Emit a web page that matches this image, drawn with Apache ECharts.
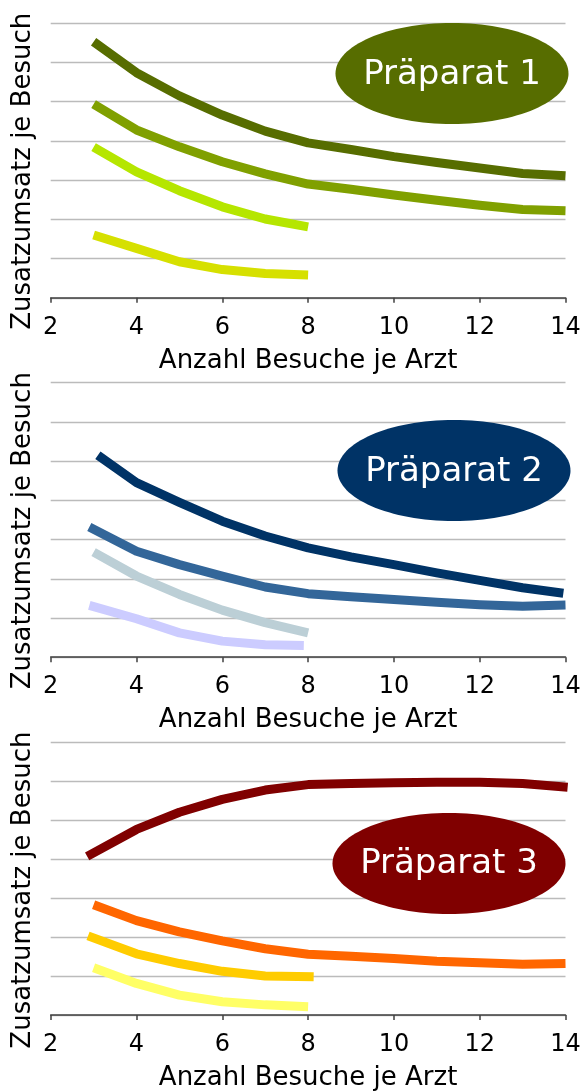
<!DOCTYPE html>
<html>
<head>
<meta charset="utf-8">
<script src="https://cdn.jsdelivr.net/npm/echarts@6/dist/echarts.min.js"></script>
<style>
html,body{margin:0;padding:0;background:#fff;}
#chart{width:585px;height:1092px;}
</style>
</head>
<body>
<div id="chart"></div>
<script>
// ---------- data ----------
const xTickLabels = [2, 4, 6, 8, 10, 12, 14];
const panelTitles = ['Präparat 1', 'Präparat 2', 'Präparat 3'];
const xAxisTitle = 'Anzahl Besuche je Arzt';
const yAxisTitle = 'Zusatzumsatz je Besuch';

// Präparat 1
const p1A_x = [3, 4, 5, 6, 7, 8, 9, 10, 11, 12, 13, 14];
const p1A_y = [6.53, 5.74, 5.15, 4.66, 4.25, 3.95, 3.78, 3.60, 3.45, 3.31, 3.17, 3.11];
const p1B_x = [3, 4, 5, 6, 7, 8, 9, 10, 11, 12, 13, 14];
const p1B_y = [4.94, 4.28, 3.85, 3.47, 3.16, 2.90, 2.77, 2.62, 2.49, 2.36, 2.25, 2.22];
const p1C_x = [3, 4, 5, 6, 7, 8];
const p1C_y = [3.84, 3.21, 2.73, 2.32, 2.01, 1.81];
const p1D_x = [3, 4, 5, 6, 7, 8];
const p1D_y = [1.60, 1.26, 0.92, 0.72, 0.62, 0.58];

// Präparat 2
const p2A_x = [3.1, 4, 5, 6, 7, 8, 9, 10, 11, 12, 13, 13.95];
const p2A_y = [5.15, 4.45, 3.95, 3.47, 3.09, 2.79, 2.56, 2.36, 2.15, 1.96, 1.77, 1.63];
const p2B_x = [2.9, 4, 5, 6, 7, 8, 9, 10, 11, 12, 13, 14];
const p2B_y = [3.32, 2.70, 2.36, 2.07, 1.79, 1.62, 1.54, 1.47, 1.40, 1.34, 1.30, 1.33];
const p2C_x = [3, 4, 5, 6, 7, 8];
const p2C_y = [2.68, 2.07, 1.60, 1.20, 0.88, 0.62];
const p2D_x = [2.9, 4, 5, 6, 7, 7.9];
const p2D_y = [1.32, 0.98, 0.62, 0.41, 0.32, 0.30];

// Präparat 3
const p3A_x = [2.85, 4, 5, 6, 7, 8, 9, 10, 11, 12, 13, 14.05];
const p3A_y = [4.07, 4.76, 5.20, 5.53, 5.77, 5.91, 5.94, 5.96, 5.97, 5.97, 5.94, 5.84];
const p3B_x = [3, 4, 5, 6, 7, 8, 9, 10, 11, 12, 13, 14];
const p3B_y = [2.83, 2.42, 2.13, 1.90, 1.70, 1.56, 1.51, 1.45, 1.38, 1.34, 1.30, 1.32];
const p3C_x = [2.87, 4, 5, 6, 7, 8.13];
const p3C_y = [2.03, 1.57, 1.32, 1.12, 1.00, 0.98];
const p3D_x = [3, 4, 5, 6, 7, 8];
const p3D_y = [1.21, 0.81, 0.51, 0.34, 0.26, 0.21];

// ---------- styling / layout ----------
const FONT = 'DejaVu Sans';
const panelColors = [
  ['#576D00', '#80A000', '#B5E600', '#D6E000'],
  ['#003366', '#336699', '#BCCFD6', '#CCCCFF'],
  ['#800000', '#FF6600', '#FFCC00', '#FFFF66']
];
const ellipseColors = ['#576D00', '#003366', '#800000'];
const panelSeries = [
  [[p1A_x, p1A_y], [p1B_x, p1B_y], [p1C_x, p1C_y], [p1D_x, p1D_y]],
  [[p2A_x, p2A_y], [p2B_x, p2B_y], [p2C_x, p2C_y], [p2D_x, p2D_y]],
  [[p3A_x, p3A_y], [p3B_x, p3B_y], [p3C_x, p3C_y], [p3D_x, p3D_y]]
];
const gridTop0 = 23.3, panelStep = 359.4, gridH = 274.5;
const gridLeft = 50.7, gridRight = 19.5;
const ellipses = [
  {cx: 452, cy: 73.5, ty: 75},
  {cx: 454, cy: 470.5, ty: 472},
  {cx: 449, cy: 863.5, ty: 864}
];

const grids = [], xAxes = [], yAxes = [], series = [], graphics = [];
for (let i = 0; i < 3; i++) {
  const top = gridTop0 + panelStep * i;
  grids.push({left: gridLeft, right: gridRight, top: top, height: gridH});
  xAxes.push({
    type: 'value', gridIndex: i, min: xTickLabels[0], max: xTickLabels[xTickLabels.length - 1], interval: 2,
    name: xAxisTitle, nameLocation: 'middle', nameGap: 50,
    nameTextStyle: {fontFamily: FONT, fontSize: 26, color: '#000'},
    axisLine: {show: true, onZero: false, lineStyle: {color: '#404040', width: 1.5}},
    axisTick: {show: true, length: 5, lineStyle: {color: '#404040', width: 1.5}},
    axisLabel: {fontFamily: FONT, fontSize: 24, color: '#000', margin: 18},
    splitLine: {show: false}
  });
  yAxes.push({
    type: 'value', gridIndex: i, min: 0, max: 7, interval: 1,
    axisLine: {show: false}, axisTick: {show: false}, axisLabel: {show: false},
    splitLine: {show: true, lineStyle: {color: '#BBBBBB', width: 1.3}}
  });
  panelSeries[i].forEach((s, k) => {
    series.push({
      type: 'line', xAxisIndex: i, yAxisIndex: i,
      data: s[0].map((x, j) => [x, s[1][j]]),
      symbol: 'none', smooth: false,
      lineStyle: {color: panelColors[i][k], width: 9, cap: 'butt', join: 'round'},
      z: 3
    });
  });
  const e = ellipses[i];
  graphics.push({
    type: 'ellipse', shape: {cx: e.cx, cy: e.cy, rx: 116.5, ry: 50.5},
    style: {fill: ellipseColors[i]}, z: 10
  });
  graphics.push({
    type: 'text', x: e.cx, y: e.ty, z: 11,
    style: {text: panelTitles[i], font: '34px "' + FONT + '"', fill: '#fff', textAlign: 'center', textVerticalAlign: 'middle'}
  });
  graphics.push({
    type: 'text', x: 23, y: top + 148, rotation: Math.PI / 2, z: 11,
    style: {text: yAxisTitle, font: '26px "' + FONT + '"', fill: '#000', textAlign: 'center', textVerticalAlign: 'middle'}
  });
}

const chart = echarts.init(document.getElementById('chart'), null, {renderer: 'canvas'});
chart.setOption({
  animation: false,
  backgroundColor: '#fff',
  grid: grids, xAxis: xAxes, yAxis: yAxes, series: series,
  graphic: graphics
});
</script>
</body>
</html>
